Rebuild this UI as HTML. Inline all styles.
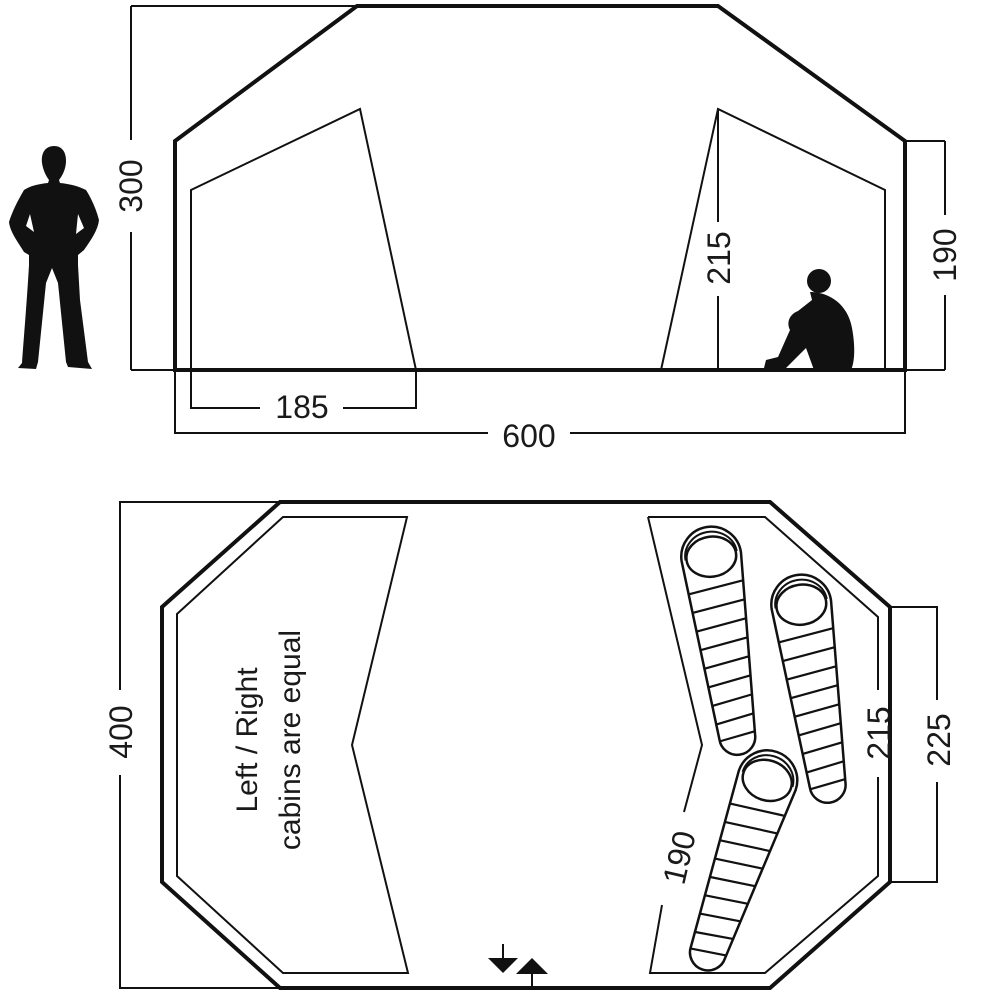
<!DOCTYPE html>
<html><head><meta charset="utf-8"><style>html,body{margin:0;padding:0;background:#fff}svg{display:block}text{font-family:"Liberation Sans",sans-serif;font-size:32px;fill:#1a1a1a}</style></head><body>
<svg width="1000" height="1000" viewBox="0 0 1000 1000" xmlns="http://www.w3.org/2000/svg">
<defs>
<g id="bag">
<path d="M-30,30 A30,30 0 0 1 30,30 L18,212 A18,18 0 0 1 -18,212 Z" fill="#fff" stroke="#111" stroke-width="2.5"/>
<path d="M-26,30 A26,24 0 0 1 26,28" fill="none" stroke="#111" stroke-width="2"/>
<ellipse cx="0" cy="30" rx="25" ry="20" fill="none" stroke="#111" stroke-width="2.5"/>
<g stroke="#111" stroke-width="2.2">
<line x1="-27" y1="64" x2="27" y2="58"/><line x1="-26" y1="83" x2="26" y2="77"/><line x1="-25" y1="102" x2="25" y2="96"/><line x1="-24" y1="121" x2="24" y2="115"/><line x1="-23" y1="140" x2="23" y2="134"/><line x1="-22" y1="159" x2="22" y2="153"/><line x1="-21" y1="178" x2="21" y2="172"/><line x1="-20" y1="197" x2="20" y2="191"/><line x1="-18" y1="214" x2="18" y2="209"/>
</g>
</g>
</defs>
<g fill="none" stroke="#111" stroke-width="2">
<polyline points="131,6 357,6"/><line x1="131" y1="6" x2="131" y2="140"/><line x1="131" y1="232" x2="131" y2="370"/><line x1="131" y1="370" x2="175" y2="370"/>
<line x1="905" y1="141" x2="945" y2="141"/><line x1="945" y1="141" x2="945" y2="215"/><line x1="945" y1="295" x2="945" y2="370"/><line x1="905" y1="370" x2="945" y2="370"/>
<polygon points="191,370 191,190 360,109 416,370"/>
<polyline points="661,370 718,109 885,190 885,370"/>
<line x1="718" y1="109" x2="718" y2="222"/><line x1="718" y1="296" x2="718" y2="370"/>
<polyline points="191,370 191,408 260,408"/><polyline points="343,408 416,408 416,370"/>
<polyline points="175,370 175,433 488,433"/><polyline points="570,433 905,433 905,370"/>
</g>
<polygon points="175,370 175,141 357,6 718,6 905,141 905,370" fill="none" stroke="#111" stroke-width="4"/>
<line x1="175" y1="370" x2="905" y2="370" stroke="#111" stroke-width="4"/>
<text transform="translate(142,186) rotate(-90)" text-anchor="middle">300</text>
<text transform="translate(956,255) rotate(-90)" text-anchor="middle">190</text>
<text transform="translate(730,258) rotate(-90)" text-anchor="middle">215</text>
<text x="302" y="418" text-anchor="middle">185</text>
<text x="529" y="447" text-anchor="middle">600</text>
<path fill="#111" d="M54,146 C44,146 41,155 42,163 C43,170 46,176 49,180 L48,183 C38,184 30,186 24,190 C18,200 12,212 9,222 C10,232 18,242 24,252 L29,255 L29,265 C27,300 24,335 22,363 L18,368 L36,369 L38,362 L46,283 L52,268 L58,283 L66,362 L68,367 L92,369 L88,362 L80,300 L78,265 L78,255 L84,250 C91,240 98,230 99,220 C96,208 90,196 86,190 C78,186 70,184 60,183 L59,180 C63,175 66,168 66,161 C66,152 62,146 54,146 Z M30,214 L34,232 L26,226 Z M78,214 L84,228 L76,234 Z"/>
<circle cx="819" cy="281" r="12" fill="#111"/>
<path fill="#111" d="M810,292 C830,292 848,305 852,328 C856,350 854,364 851,370 L814,370 L806,348 L792,362 L786,368 L764,368 L766,360 L778,357 L790,330 C786,322 790,314 798,311 L812,300 Z"/>
<polygon points="162,607 280,502 770,502 890,607 890,882 770,988 280,988 162,882" fill="none" stroke="#111" stroke-width="4"/>
<g fill="none" stroke="#111" stroke-width="2">
<polygon points="177,614 283,517 407,517 352,745 408,973 283,973 177,876"/>
<polyline points="648,517 765,517 878,617 878,690"/><polyline points="878,777 878,876 765,973 650,973 662,905"/><polyline points="684,812 702,745 648,517"/>
<polyline points="280,502 120,502 120,690"/><polyline points="120,775 120,988 280,988"/>
<polyline points="890,607 937,607 937,700"/><polyline points="937,782 937,882 890,882"/>
</g>
<text transform="translate(132,732) rotate(-90)" text-anchor="middle">400</text>
<text transform="translate(950,740) rotate(-90)" text-anchor="middle">225</text>
<text transform="translate(890,733) rotate(-90)" text-anchor="middle">215</text>
<text transform="translate(690,860) rotate(-77)" text-anchor="middle">190</text>
<text transform="translate(257,740) rotate(-90)" text-anchor="middle" style="font-size:30px">Left / Right</text>
<text transform="translate(300,740) rotate(-90)" text-anchor="middle" style="font-size:30px">cabins are equal</text>
<use href="#bag" transform="translate(707,527) rotate(-8.2)"/>
<use href="#bag" transform="translate(797,575) rotate(-8.3)"/>
<use href="#bag" transform="translate(777,752) rotate(19)"/>
<line x1="503" y1="944" x2="503" y2="962" stroke="#111" stroke-width="2"/>
<polygon points="488,958 518,958 503,973" fill="#111"/>
<polygon points="516,974 548,974 532,958" fill="#111"/>
<line x1="532" y1="972" x2="532" y2="988" stroke="#111" stroke-width="2"/>
</svg>
</body></html>
